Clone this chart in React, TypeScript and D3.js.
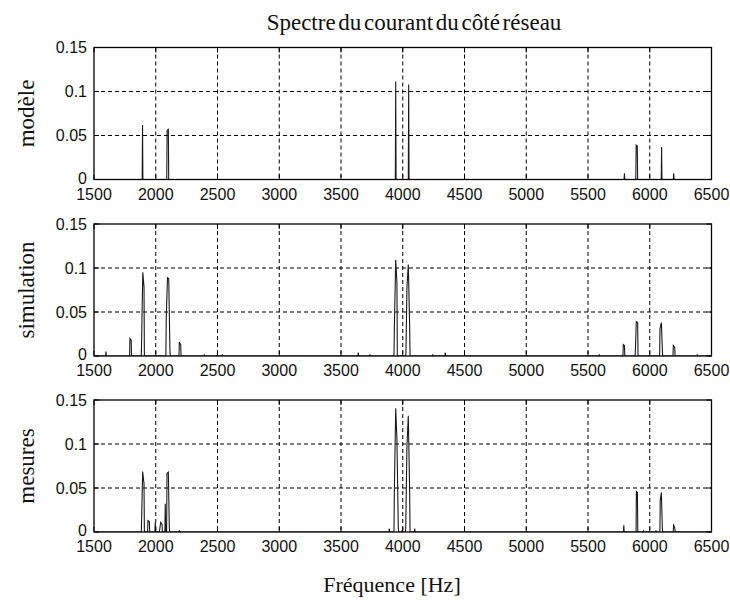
import React from 'react';
import * as d3 from 'd3';

const titleText = 'Spectre du courant du côté réseau';
const xAxisLabel = 'Fréquence [Hz]';
const xTickValues = [1500, 2000, 2500, 3000, 3500, 4000, 4500, 5000, 5500, 6000, 6500];
const yTickValues = [0, 0.05, 0.1, 0.15];
const yTickLabels = ['0', '0.05', '0.1', '0.15'];
const panelLabels = ['modèle', 'simulation', 'mesures'];

const modeleHz = [1893, 2092, 2102, 3943, 4048, 5795, 5890, 5899, 6096, 6194];
const modeleAmp = [0.062, 0.056, 0.057, 0.1115, 0.108, 0.007, 0.039, 0.038, 0.037, 0.007];

const simulationHz = [1597, 1791, 1801, 1886, 1895, 1905, 2085, 2095, 2105, 2115, 2191, 2202, 2393, 2539,
  3640, 3735, 3932, 3943, 3953, 4026, 4034, 4045, 4056, 4242, 4344,
  5592, 5786, 5795, 5883, 5891, 5902, 6083, 6094, 6102, 6191, 6202, 6385];
const simulationAmp = [0.005, 0.02, 0.018, 0.021, 0.095, 0.078, 0.044, 0.089, 0.088, 0.005, 0.016, 0.013, 0.002, 0.002,
  0.004, 0.002, 0.032, 0.109, 0.083, 0.003, 0.078, 0.104, 0.033, 0.002, 0.004,
  0.002, 0.013, 0.012, 0.003, 0.039, 0.038, 0.031, 0.038, 0.007, 0.012, 0.01, 0.002];

const mesuresHz = [1886, 1894, 1905, 1937, 1948, 1996, 2032, 2040, 2051, 2077, 2091, 2102, 2110, 2191,
  3891, 3932, 3943, 3953, 3964, 3994, 4024, 4034, 4045, 4056, 4097,
  5790, 5892, 5900, 5950, 6050, 6085, 6094, 6102, 6193, 6203];
const mesuresAmp = [0.017, 0.0686, 0.0547, 0.013, 0.012, 0.011, 0.003, 0.011, 0.009, 0.032, 0.0667, 0.068, 0.004, 0.002,
  0.004, 0.047, 0.1407, 0.1045, 0.004, 0.002, 0.003, 0.098, 0.132, 0.045, 0.004,
  0.0076, 0.046, 0.045, 0.002, 0.002, 0.036, 0.045, 0.004, 0.0076, 0.005];

const panelHz = [modeleHz, simulationHz, mesuresHz];
const panelAmp = [modeleAmp, simulationAmp, mesuresAmp];

const W = 730;
const H = 600;
const X0 = 94;
const X1 = 711.5;
const panelTops = [47.5, 224, 400];
const PH = 132;

const sansFont = '"Liberation Sans", Arial, sans-serif';
const serifFont = '"Liberation Serif", "Times New Roman", serif';

function buildSeries(hz: number[], amp: number[]): [number, number][] {
  const pts: [number, number][] = [[xTickValues[0], 0]];
  for (let i = 0; i < hz.length; i++) {
    const prevGap = i === 0 ? Infinity : hz[i] - hz[i - 1];
    const nextGap = i === hz.length - 1 ? Infinity : hz[i + 1] - hz[i];
    if (prevGap > 12) pts.push([hz[i] - 3, 0]);
    pts.push([hz[i], amp[i]]);
    if (nextGap > 12) pts.push([hz[i] + 3, 0]);
  }
  pts.push([xTickValues[xTickValues.length - 1], 0]);
  return pts;
}

function Panel({ idx }: { idx: number }) {
  const top = panelTops[idx];
  const x = d3.scaleLinear().domain([1500, 6500]).range([X0, X1]);
  const y = d3.scaleLinear().domain([0, 0.15]).range([top + PH, top]);
  const series = buildSeries(panelHz[idx], panelAmp[idx]);
  const line = d3.line<[number, number]>().x((d) => x(d[0])).y((d) => y(d[1]));
  const clipId = `clip${idx}`;
  const tickLen = 5;
  return (
    <g>
      <defs>
        <clipPath id={clipId}>
          <rect x={X0} y={top} width={X1 - X0} height={PH} />
        </clipPath>
      </defs>
      <rect x={X0} y={top} width={X1 - X0} height={PH} fill="#fff" />
      {xTickValues.slice(1, -1).map((t) => (
        <line key={'gx' + t} x1={x(t)} x2={x(t)} y1={top} y2={top + PH}
          stroke="#000" strokeWidth={1} strokeDasharray="4,3" />
      ))}
      {yTickValues.slice(1, -1).map((t) => (
        <line key={'gy' + t} x1={X0} x2={X1} y1={y(t)} y2={y(t)}
          stroke="#000" strokeWidth={1} strokeDasharray="4,3" />
      ))}
      <path d={line(series) || ''} fill="none" stroke="#1a1a1a" strokeWidth={1.1} clipPath={`url(#${clipId})`} />
      {xTickValues.map((t) => (
        <g key={'tx' + t}>
          <line x1={x(t)} x2={x(t)} y1={top + PH} y2={top + PH - tickLen} stroke="#000" />
          <line x1={x(t)} x2={x(t)} y1={top} y2={top + tickLen} stroke="#000" />
          <text x={x(t)} y={top + PH + 20} textAnchor="middle" fontFamily={sansFont} fontSize={16} fill="#111">
            {t}
          </text>
        </g>
      ))}
      {yTickValues.map((t, i) => (
        <g key={'ty' + t}>
          <line x1={X0} x2={X0 + tickLen} y1={y(t)} y2={y(t)} stroke="#000" />
          <line x1={X1} x2={X1 - tickLen} y1={y(t)} y2={y(t)} stroke="#000" />
          <text x={X0 - 7} y={y(t)} dy={i === 0 ? '0.25em' : '0.36em'} textAnchor="end" fontFamily={sansFont} fontSize={16} fill="#111">
            {yTickLabels[i]}
          </text>
        </g>
      ))}
      <rect x={X0} y={top} width={X1 - X0} height={PH} fill="none" stroke="#000" strokeWidth={1.3} />
      <text transform={`translate(34, ${top + PH / 2}) rotate(-90)`} textAnchor="middle"
        fontFamily={serifFont} fontSize={23} fill="#111">
        {panelLabels[idx]}
      </text>
    </g>
  );
}

export default function App() {
  return (
    <svg width={W} height={H} style={{ position: 'absolute', left: 0, top: 0, background: '#fff' }}>
      <rect x={0} y={0} width={W} height={H} fill="#fff" />
      <text x={414} y={30} textAnchor="middle" fontFamily={serifFont} fontSize={23} wordSpacing={-3} fill="#111">
        {titleText}
      </text>
      {panelTops.map((_, i) => (
        <Panel key={i} idx={i} />
      ))}
      <text x={392} y={592} textAnchor="middle" fontFamily={serifFont} fontSize={22} fill="#111">
        {xAxisLabel}
      </text>
    </svg>
  );
}
